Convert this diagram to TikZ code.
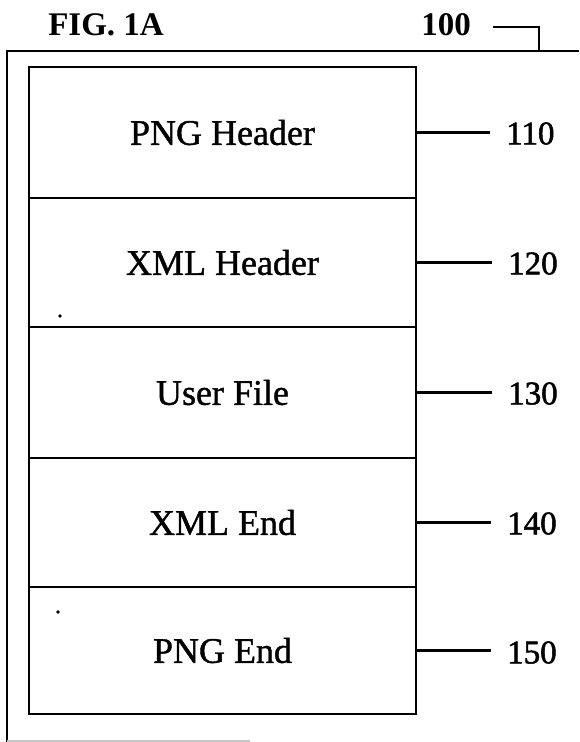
\documentclass[tikz,border=0pt]{standalone}
\usepackage{fontspec}
\setmainfont{Liberation Serif}
\newfontfamily\heavyfont{Liberation Serif}[FakeBold=1.2]
\newfontfamily\labelfont{Liberation Serif}[FakeBold=1.6]
\begin{document}
\begin{tikzpicture}[x=1pt,y=-1pt,
  sect/.style={draw, line width=2.8pt, minimum width=387pt, inner sep=0pt, outer sep=0pt, font=\heavyfont\fontsize{36}{40}\selectfont},
  reflabel/.style={inner sep=0pt, anchor=west, font=\labelfont\fontsize{33}{36}\selectfont},
  leader/.style={line width=2.2pt},
  frame/.style={line width=2.2pt}]
\useasboundingbox (0,0) rectangle (579,742);
% outer frame
\draw[frame] (7,742) -- (7,51) -- (579,51);
\draw[gray!45, line width=1.2pt] (7,741) -- (250,741);
% sections
\node[sect, minimum height=131pt] (s1) at (222.5,132.5) {PNG Header};
\node[sect, minimum height=129pt] (s2) at (222.5,262.5) {XML Header};
\node[sect, minimum height=131pt] (s3) at (222.5,392.5) {User File};
\node[sect, minimum height=129pt] (s4) at (222.5,522.5) {XML End};
\node[sect, minimum height=127pt] (s5) at (222.5,650.5) {PNG End};
% stray dots
\fill (60,316) circle (1.8pt);
\fill (58,612) circle (1.8pt);
% reference labels
\node[reflabel] (l1) at (506,133.5) {110};
\node[reflabel] (l2) at (508,263.5) {120};
\node[reflabel] (l3) at (508,393.5) {130};
\node[reflabel] (l4) at (507,523.5) {140};
\node[reflabel] (l5) at (507,652.5) {150};
\foreach \i in {1,...,5} \draw[leader, shorten >=16pt] (s\i.east) -- (s\i.east -| l\i.west);
% title and 100
\node[inner sep=0pt, font=\bfseries\fontsize{33}{36}\selectfont] (fig) at (106,25) {FIG. 1A};
\node[inner sep=0pt, font=\bfseries\fontsize{33}{36}\selectfont] (n100) at (446,25) {100};
\coordinate (c100) at (539,51);
\draw[leader] ([xshift=22pt,yshift=-2pt]n100.east) -| (c100);
\end{tikzpicture}
\end{document}
